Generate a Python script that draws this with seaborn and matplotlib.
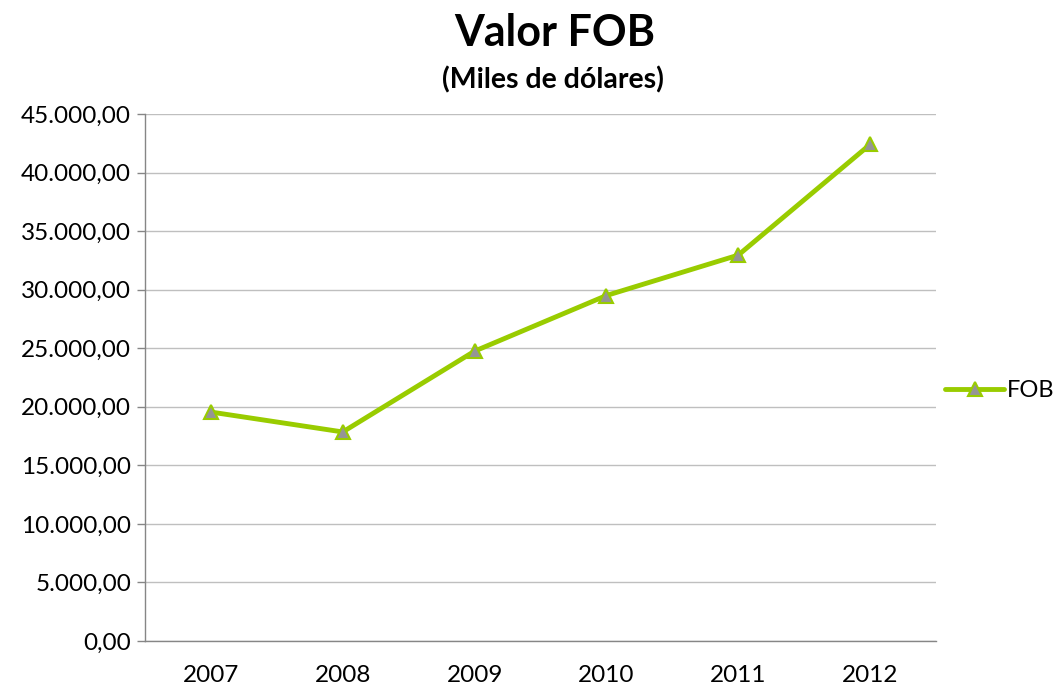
import matplotlib
matplotlib.use("Agg")
import matplotlib.pyplot as plt
import matplotlib.ticker as mticker
import seaborn as sns
import pandas as pd

# Datos
years = ["2007", "2008", "2009", "2010", "2011", "2012"]
fob = [19550, 17850, 24750, 29500, 32950, 42400]

df = pd.DataFrame({"year": years, "FOB": fob})

sns.set_style("white")
plt.rcParams["font.family"] = ["Lato", "DejaVu Sans"]
plt.rcParams["text.color"] = "black"

fig = plt.figure(figsize=(10.58, 6.86), dpi=100)
ax = fig.add_axes([145 / 1058, 1 - 641 / 686, (936 - 145) / 1058, (641 - 114) / 686])

sns.lineplot(data=df, x="year", y="FOB", ax=ax, color="#99CC00", linewidth=3.5,
             marker="^", markersize=10, markerfacecolor="#959595",
             markeredgecolor="#99CC00", markeredgewidth=1.5, label="FOB",
             sort=False)

ax.set_xlim(-0.5, len(years) - 0.5)
ax.set_ylim(0, 45000)
ax.yaxis.set_major_locator(mticker.MultipleLocator(5000))


def fmt(v, pos):
    s = f"{v:,.2f}"
    return s.replace(",", "X").replace(".", ",").replace("X", ".")


ax.yaxis.set_major_formatter(mticker.FuncFormatter(fmt))
ax.grid(axis="y", color="#bfbfbf", linewidth=1.0)
ax.set_axisbelow(True)

for s in ["top", "right"]:
    ax.spines[s].set_visible(False)
for s in ["left", "bottom"]:
    ax.spines[s].set_color("#868686")
    ax.spines[s].set_linewidth(1.0)

ax.xaxis.set_minor_locator(mticker.FixedLocator([i - 0.5 for i in range(len(years) + 1)]))
ax.tick_params(axis="x", which="major", length=0, labelsize=17.5, pad=17,
               labelcolor="black")
ax.tick_params(axis="x", which="minor", length=6, color="#868686", width=1.0)
ax.tick_params(axis="y", which="major", length=6, color="#868686", width=1.0,
               labelsize=17.5, pad=4, left=True, labelcolor="black")
ax.set_xlabel("")
ax.set_ylabel("")

leg = ax.legend(loc="center left", bbox_to_anchor=(1.0, 0.475), frameon=False,
                fontsize=17, handlelength=2.5, handletextpad=0.1, borderaxespad=0.0,
                labelcolor="black")

fig.text(555 / 1058, 1 - 33 / 686, "Valor FOB", ha="center", va="center",
         fontsize=31, fontweight="bold")
fig.text(553 / 1058, 1 - 80 / 686, "(Miles de dólares)", ha="center", va="center",
         fontsize=20.5, fontweight="bold")

fig.savefig("out.png", dpi=100)
